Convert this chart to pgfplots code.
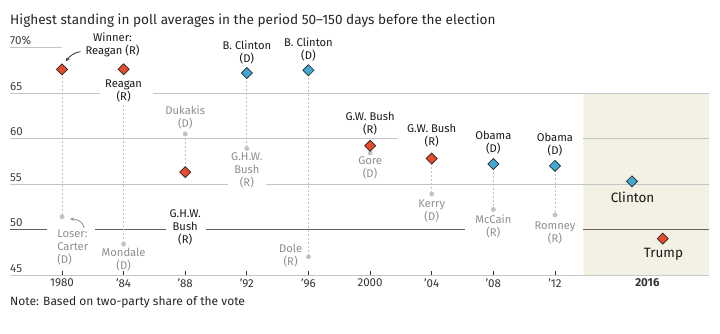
\documentclass[border=0pt]{standalone}
\usepackage{pgfplots}
\pgfplotsset{compat=1.18}
\usepackage{fontspec}
\setmainfont{Fira Sans}
\usetikzlibrary{arrows.meta}
\definecolor{rep}{HTML}{E64B2D}
\definecolor{dem}{HTML}{41A9D1}
\definecolor{shade}{HTML}{F3F0E4}
\definecolor{grid}{HTML}{C4C4C4}
\definecolor{dark}{HTML}{6B5F57}
\definecolor{graytxt}{HTML}{8E8E8E}
\definecolor{dotc}{HTML}{C2C2C2}
\begin{document}
\begin{tikzpicture}
\tikzset{yl/.style={anchor=base west, inner sep=0pt, font=\fontsize{11.6}{13}\selectfont, text=black!75, yshift=3pt},
         lb/.style={align=center, inner sep=0pt, text=black!90, font=\fontsize{11.2}{13}\selectfont},
         lg/.style={align=center, inner sep=0pt, text=graytxt, font=\fontsize{11.2}{13}\selectfont}}
\begin{axis}[
  at={(0,0)}, anchor=south west,
  scale only axis, width=699pt, height=227.5pt,
  xmin=-0.844, xmax=10.5, ymin=45, ymax=70,
  clip=false,
  axis y line=none,
  axis x line*=bottom,
  x axis line style={draw=grid, line width=0.8pt},
  xtick={0,1,2,3,4,5,6,7,8},
  xticklabels={1980,'84,'88,'92,'96,2000,'04,'08,'12},
  extra x ticks={9.5}, extra x tick labels={\textbf{2016}},
  extra x tick style={major tick length=0pt},
  xtick align=inside, major tick length=4pt,
  tick style={draw=black!80, line width=0.9pt},
  ticklabel style={font=\fontsize{11.5}{13}\selectfont, text=black!80},
  xticklabel style={yshift=-0.5pt},
  ytick=\empty,
]
% shaded 2016 region
\addplot[fill=shade, draw=none] coordinates {(8.46,45) (8.46,65) (10.5,65) (10.5,45)} \closedcycle;
% gridlines
\draw[grid, line width=0.8pt] (axis cs:-0.844,70) -- (axis cs:0,70);
\draw[grid, line width=0.8pt] (axis cs:-0.844,65) -- (axis cs:0.62,65);
\draw[grid, line width=0.8pt] (axis cs:1.48,65) -- (axis cs:10.5,65);
\draw[grid, line width=0.8pt] (axis cs:-0.844,60) -- (axis cs:5.45,60);
\draw[grid, line width=0.8pt] (axis cs:8.46,60) -- (axis cs:10.5,60);
\draw[grid, line width=0.8pt] (axis cs:-0.844,55) -- (axis cs:2.69,55);
\draw[grid, line width=0.8pt] (axis cs:3.31,55) -- (axis cs:10.5,55);
\draw[dark, line width=1pt] (axis cs:-0.844,50) -- (axis cs:-0.24,50);
\draw[dark, line width=1pt] (axis cs:0.535,50) -- (axis cs:1.69,50);
\draw[dark, line width=1pt] (axis cs:2.34,50) -- (axis cs:6.54,50);
\draw[dark, line width=1pt] (axis cs:8.46,50) -- (axis cs:10.5,50);
% y labels
\node[yl] at (axis cs:-0.844,70) {70\%};
\node[yl] at (axis cs:-0.844,65) {65};
\node[yl] at (axis cs:-0.844,60) {60};
\node[yl] at (axis cs:-0.844,55) {55};
\node[yl] at (axis cs:-0.844,50) {50};
\node[yl] at (axis cs:-0.844,45) {45};
% dashed connectors
\addplot[dotc, line width=0.8pt, dash pattern=on 2pt off 2pt, unbounded coords=jump] coordinates {
 (0,67.6) (0,51.4) (0,nan)
 (1,67.6) (1,48.4) (1,nan)
 (2,60.5) (2,56.3) (2,nan)
 (3,67.2) (3,58.9) (3,nan)
 (4,67.5) (4,47.0) (4,nan)
 (5,59.2) (5,58.4) (5,nan)
 (6,57.8) (6,53.9) (6,nan)
 (7,57.2) (7,52.2) (7,nan)
 (8,57.0) (8,51.6)
};
% losers (gray dots)
\addplot[only marks, mark=*, mark size=2.2pt, dotc, mark options={draw=none, fill=dotc}] coordinates {
 (0,51.4) (1,48.4) (2,60.5) (3,58.9) (4,47.0) (5,58.4) (6,53.9) (7,52.2) (8,51.6)
};
% Reagan (R) label hides connector
\node[fill=white, inner sep=1.5pt, align=center, text=black!90, font=\fontsize{11.2}{13}\selectfont] at (axis cs:1,65.27) {Reagan\\(R)};
% republican winners
\addplot[only marks, mark=square*, mark size=3.9pt, mark options={rotate=45, fill=rep, draw=black!85, line width=0.7pt}] coordinates {
 (0,67.6) (1,67.6) (2,56.3) (5,59.2) (6,57.8) (9.75,49.0)
};
% democratic winners
\addplot[only marks, mark=square*, mark size=3.9pt, mark options={rotate=45, fill=dem, draw=black!85, line width=0.7pt}] coordinates {
 (3,67.2) (4,67.5) (7,57.2) (8,57.0) (9.25,55.3)
};
% labels
\node[lb] at (axis cs:0.82,70.27) {Winner:\\Reagan (R)};
\node[lb] at (axis cs:3,69.45) {B. Clinton\\(D)};
\node[lb] at (axis cs:4,69.84) {B. Clinton\\(D)};
\node[lg] at (axis cs:2,62.3) {Dukakis\\(D)};
\node[lg] at (axis cs:3,56.48) {G.H.W.\\Bush\\(R)};
\node[lb] at (axis cs:2,50.22) {G.H.W.\\Bush\\(R)};
\node[lg, align=left, anchor=west] at (axis cs:-0.08,48.02) {Loser:\\Carter\\(D)};
\node[lg] at (axis cs:1,46.65) {Mondale\\(D)};
\node[lg] at (axis cs:3.71,47.1) {Dole\\(R)};
\node[lb] at (axis cs:5,61.6) {G.W. Bush\\(R)};
\node[lg] at (axis cs:5,56.76) {Gore\\(D)};
\node[lb] at (axis cs:6,60.27) {G.W. Bush\\(R)};
\node[lg] at (axis cs:6,52.03) {Kerry\\(D)};
\node[lb] at (axis cs:7,59.56) {Obama\\(D)};
\node[lg] at (axis cs:7,50.38) {McCain\\(R)};
\node[lb] at (axis cs:8,59.29) {Obama\\(D)};
\node[lg] at (axis cs:8,49.67) {Romney\\(R)};
\node[inner sep=0pt, text=black!90, font=\fontsize{13.5}{15}\selectfont] at (axis cs:9.26,53.5) {Clinton};
\node[inner sep=0pt, text=black!90, font=\fontsize{13.5}{15}\selectfont] at (axis cs:9.76,47.3) {Trump};
% arrows
\draw[black!80, line width=0.8pt, -{Stealth[length=4pt,width=3.5pt]}] (axis cs:0.30,69.55) to[out=190, in=50] (axis cs:0.06,68.5);
\draw[graytxt, line width=0.8pt, -{Stealth[length=4pt,width=3.5pt]}] (axis cs:0.36,50.2) to[out=100, in=0] (axis cs:0.13,51.15);
% title & note
\node[anchor=base west, inner sep=0pt, text=black!85, font=\fontsize{13.6}{16}\selectfont] at (axis cs:-0.844,72.58) {Highest standing in poll averages in the period 50–150 days before the election};
\node[anchor=base west, inner sep=0pt, text=black!85, font=\fontsize{12}{14}\selectfont] at (axis cs:-0.844,41.7) {Note: Based on two-party share of the vote};
\end{axis}
\pgfresetboundingbox
\path[use as bounding box] (-10pt,-58pt) rectangle (710pt,275pt);
\end{tikzpicture}
\end{document}
